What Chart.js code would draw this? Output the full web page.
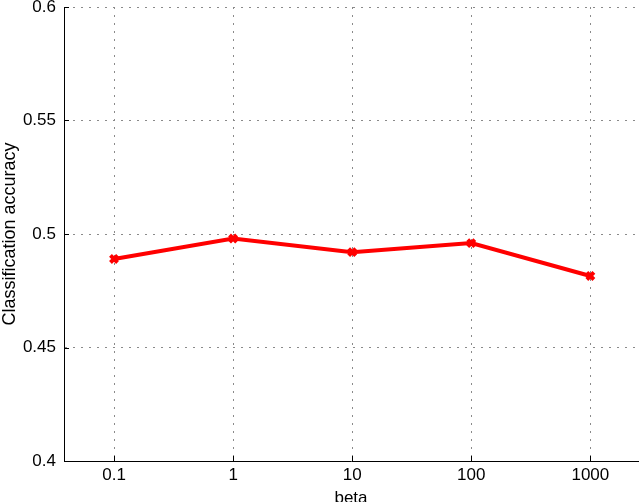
<!DOCTYPE html>
<html lang="en">
<head>
    <meta charset="UTF-8">
    <title>Classification accuracy vs beta</title>
    <script src="https://cdn.jsdelivr.net/npm/chart.js"></script>
    <style>
        body {
            margin: 0;
            background: #fff;
        }
        #chart {
            display: block;
        }
    </style>
</head>
<body>
    <canvas id="chart" width="640" height="502"></canvas>

    <script>
        // beta values (shown on a log axis, one step per decade)
        const betaLabels = ['0.1', '1', '10', '100', '1000'];
        const accuracy = [0.489, 0.498, 0.492, 0.496, 0.4815];

        const yTickValues = [0.4, 0.45, 0.5, 0.55, 0.6];
        const yTickLabels = ['0.4', '0.45', '0.5', '0.55', '0.6'];

        const fontFamily = "'Liberation Sans', Arial, Helvetica, sans-serif";

        // matlab style tick marks pointing into the plot
        const inwardTicks = {
            id: 'inwardTicks',
            afterDraw(chart) {
                const ctx = chart.ctx;
                const area = chart.chartArea;
                const x = chart.scales.x;
                const y = chart.scales.y;
                ctx.save();
                ctx.strokeStyle = '#000';
                ctx.lineWidth = 1;
                ctx.beginPath();
                x.ticks.forEach(t => {
                    const px = Math.round(x.getPixelForValue(t.value)) + 0.5;
                    ctx.moveTo(px, area.bottom);
                    ctx.lineTo(px, area.bottom - 5);
                });
                y.ticks.forEach(t => {
                    const py = Math.round(y.getPixelForValue(t.value)) + 0.5;
                    ctx.moveTo(area.left, py);
                    ctx.lineTo(area.left + 5, py);
                });
                ctx.stroke();
                ctx.restore();
            }
        };

        const ctx = document.getElementById('chart').getContext('2d');
        const chart = new Chart(ctx, {
            type: 'line',
            data: {
                datasets: [{
                    label: 'accuracy',
                    data: accuracy.map((v, i) => ({ x: i, y: v })),
                    borderColor: '#ff0000',
                    backgroundColor: '#ff0000',
                    borderWidth: 4,
                    pointStyle: 'crossRot',
                    pointRadius: 5,
                    pointBorderWidth: 4,
                    pointBorderColor: '#ff0000',
                    fill: false,
                    tension: 0
                }]
            },
            options: {
                responsive: false,
                animation: false,
                layout: {
                    autoPadding: false,
                    padding: { top: 7, right: 2, left: 0, bottom: 0 }
                },
                plugins: {
                    legend: { display: false },
                    tooltip: { enabled: false }
                },
                scales: {
                    x: {
                        type: 'linear',
                        min: -0.42,
                        max: 4.4,
                        afterBuildTicks: scale => {
                            scale.ticks = betaLabels.map((l, i) => ({ value: i }));
                        },
                        afterFit: scale => {
                            scale.height = 41;
                            scale.paddingLeft = 0;
                            scale.paddingRight = 0;
                        },
                        ticks: {
                            color: '#000',
                            padding: 4,
                            maxRotation: 0,
                            font: { family: fontFamily, size: 17 },
                            callback: (v, i) => betaLabels[i]
                        },
                        grid: {
                            color: '#8a8a8a',
                            lineWidth: 1,
                            drawTicks: false
                        },
                        border: {
                            display: true,
                            color: '#000',
                            width: 1,
                            dash: [2, 6]
                        },
                        title: {
                            display: true,
                            text: 'beta',
                            color: '#000',
                            padding: { top: 0, bottom: -7 },
                            font: { family: fontFamily, size: 17 }
                        }
                    },
                    y: {
                        min: 0.4,
                        max: 0.6,
                        afterBuildTicks: scale => {
                            scale.ticks = yTickValues.map(v => ({ value: v }));
                        },
                        afterFit: scale => {
                            scale.width = 64;
                            scale.paddingTop = 0;
                            scale.paddingBottom = 0;
                        },
                        ticks: {
                            color: '#000',
                            padding: 8,
                            font: { family: fontFamily, size: 17 },
                            callback: (v, i) => yTickLabels[i]
                        },
                        grid: {
                            color: '#8a8a8a',
                            lineWidth: 1,
                            drawTicks: false
                        },
                        border: {
                            display: true,
                            color: '#000',
                            width: 1,
                            dash: [2, 6]
                        },
                        title: {
                            display: true,
                            text: 'Classification accuracy',
                            color: '#000',
                            padding: { top: -1, bottom: 0 },
                            font: { family: fontFamily, size: 18 }
                        }
                    }
                }
            },
            plugins: [inwardTicks]
        });
    </script>
</body>
</html>
